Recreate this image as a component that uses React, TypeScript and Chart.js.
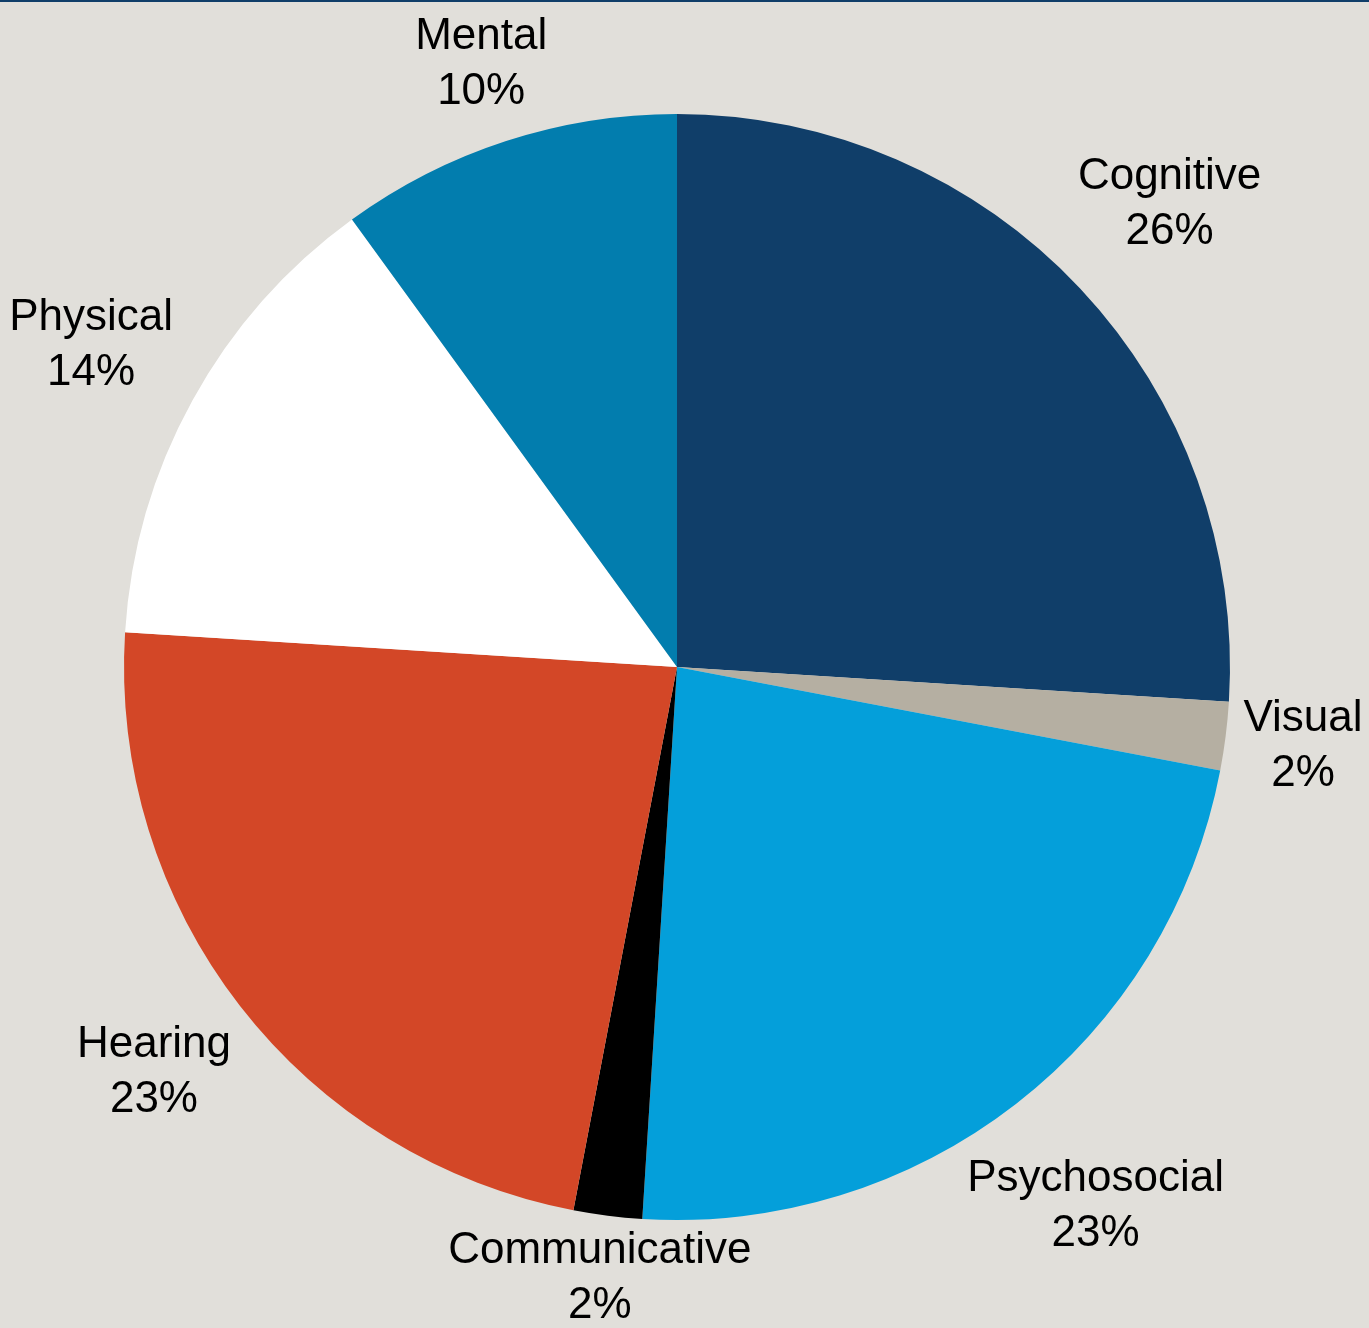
import React, { useEffect, useRef } from "react";
import { Chart, registerables } from "chart.js";

Chart.register(...registerables);

const categories = ["Cognitive", "Visual", "Psychosocial", "Communicative", "Hearing", "Physical", "Mental"];
const shares = [26, 2, 23, 2, 23, 14, 10];
const sliceColors = ["#103E69", "#B5AFA2", "#049FDA", "#000000", "#D34727", "#FFFFFF", "#027DAE"];
// label distance from the pie centre, as a multiple of the outer radius
const labelDistance = [1.222, 1.141, 1.235, 1.114, 1.197, 1.209, 1.146];

const BG = "#E1DFDA";

const labelPlugin = {
  id: "outsideLabels",
  afterDatasetsDraw(chart: any) {
    const ctx = chart.ctx;
    const meta = chart.getDatasetMeta(0);
    ctx.save();
    ctx.font = "44px 'Liberation Sans', Arial, sans-serif";
    ctx.fillStyle = "#000000";
    ctx.textAlign = "center";
    ctx.textBaseline = "middle";
    meta.data.forEach((arc: any, i: number) => {
      const p = arc.getProps(["x", "y", "startAngle", "endAngle", "outerRadius"], true);
      const mid = (p.startAngle + p.endAngle) / 2;
      const r = p.outerRadius * labelDistance[i];
      const cx = p.x + Math.cos(mid) * r;
      const cy = p.y + Math.sin(mid) * r;
      const lh = 55;
      ctx.fillText(categories[i], cx, cy - lh / 2);
      ctx.fillText(shares[i] + "%", cx, cy + lh / 2);
    });
    ctx.restore();
  },
};

export default function App() {
  const ref = useRef<HTMLCanvasElement | null>(null);
  useEffect(() => {
    document.body.style.margin = "0";
    const chart = new Chart(ref.current as HTMLCanvasElement, {
      type: "pie",
      data: {
        labels: categories,
        datasets: [
          {
            data: shares,
            backgroundColor: sliceColors,
            borderWidth: 0,
          },
        ],
      },
      options: {
        animation: false,
        responsive: false,
        maintainAspectRatio: false,
        layout: { padding: { top: 112, bottom: 108, left: 123, right: 138 } },
        plugins: { legend: { display: false }, tooltip: { enabled: false } },
      },
      plugins: [labelPlugin],
    });
    return () => chart.destroy();
  }, []);
  return (
    <div
      style={{
        position: "fixed",
        left: 0,
        top: 0,
        width: 1369,
        height: 1328,
        background: BG,
        borderTop: "2px solid #103E69",
        boxSizing: "border-box",
      }}
    >
      <canvas ref={ref} width={1369} height={1326} style={{ display: "block" }} />
    </div>
  );
}
